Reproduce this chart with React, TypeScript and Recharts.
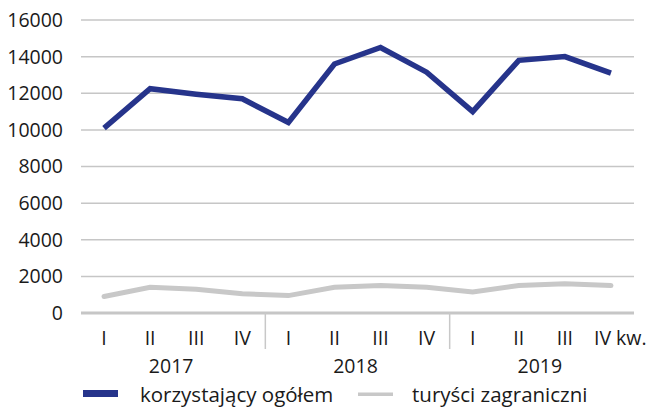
import React from "react";
import { LineChart, Line, XAxis, YAxis, CartesianGrid, Legend } from "recharts";

const quarters = ["I", "II", "III", "IV", "I", "II", "III", "IV", "I", "II", "III", "IV"];
const years = ["2017", "2018", "2019"];
const totalVisitors = [10100, 12250, 11950, 11700, 10400, 13600, 14500, 13150, 11000, 13800, 14000, 13100];
const foreignTourists = [900, 1400, 1300, 1050, 950, 1400, 1500, 1400, 1150, 1500, 1600, 1500];
const yTicks = [0, 2000, 4000, 6000, 8000, 10000, 12000, 14000, 16000];
const lastLabel = "IV kw.";

const seriesNames = { total: "korzystający ogółem", foreign: "turyści zagraniczni" };

const data = quarters.map((q, i) => ({
  q: `${i}`,
  label: q,
  total: totalVisitors[i],
  foreign: foreignTourists[i],
}));

const W = 655;
const H = 407;
const M = { top: 20, right: 21, left: 0, bottom: 0 };
const Y_W = 81;
const PLOT_W = W - M.left - M.right - Y_W;
const HALF_BAND = PLOT_W / quarters.length / 2;
const FONT = "'Open Sans', 'Noto Sans', sans-serif";
const TEXT = "#1a1a1a";
const BLUE = "#26348b";
const GRAY = "#c8c8c8";
const FS = 19.5;

const XTick = (props: any) => {
  const { x, y, index } = props;
  const n = quarters.length;
  const isLast = index === n - 1;
  const els: any[] = [];
  if (isLast) {
    els.push(
      <text key="t" x={x - 17} y={y + 32} textAnchor="start" fontSize={FS} fontFamily={FONT} fill={TEXT}>
        {lastLabel}
      </text>
    );
  } else {
    els.push(
      <text key="t" x={x} y={y + 32} textAnchor="middle" fontSize={FS} fontFamily={FONT} fill={TEXT}>
        {quarters[index]}
      </text>
    );
  }
  if (index % 4 === 0 && index > 0) {
    els.push(<line key="s" x1={x - HALF_BAND} x2={x - HALF_BAND} y1={y} y2={y + 36} stroke={GRAY} strokeWidth={1.5} />);
  }
  if (index % 4 === 1) {
    els.push(
      <text key="y" x={x + HALF_BAND - 2} y={y + 60} textAnchor="middle" fontSize={FS} fontFamily={FONT} fill={TEXT}>
        {years[Math.floor(index / 4)]}
      </text>
    );
  }
  return <g>{els}</g>;
};

const LegendContent = () => (
  <svg width={W} height={30} style={{ display: "block" }}>
    <rect x={83} y={13} width={35} height={7} fill={BLUE} />
    <text x={140} y={25} fontSize={20.5} fontFamily={FONT} fill={TEXT}>
      {seriesNames.total}
    </text>
    <rect x={358} y={15.5} width={35} height={3.5} fill={GRAY} />
    <text x={412} y={25} fontSize={20.5} fontFamily={FONT} fill={TEXT}>
      {seriesNames.foreign}
    </text>
  </svg>
);

export default function App() {
  return (
    <div style={{ position: "absolute", left: 0, top: 0, width: W, height: H, background: "#fff", overflow: "hidden" }}>
      <LineChart width={W} height={H} data={data} margin={M}>
        <CartesianGrid horizontal vertical={false} stroke="#c6c6c6" strokeWidth={1.5} />
        <XAxis
          dataKey="q"
          height={64}
          interval={0}
          padding={{ left: HALF_BAND, right: HALF_BAND }}
          tickLine={false}
          tickSize={0}
          tickMargin={0}
          axisLine={{ stroke: "#c6c6c6", strokeWidth: 3 }}
          tick={<XTick />}
        />
        <YAxis
          width={Y_W}
          domain={[0, 16000]}
          ticks={yTicks}
          interval={0}
          axisLine={false}
          tickLine={false}
          tickSize={0}
          tickMargin={18}
          tick={{ fontSize: FS, fontFamily: FONT, fill: TEXT }}
        />
        <Legend
          verticalAlign="bottom"
          height={30}
          content={<LegendContent />}
          wrapperStyle={{ left: 0, top: 377, width: W, height: 30 }}
        />
        <Line type="linear" dataKey="total" stroke={BLUE} strokeWidth={5.5} dot={false} isAnimationActive={false} />
        <Line type="linear" dataKey="foreign" stroke={GRAY} strokeWidth={5} dot={false} isAnimationActive={false} strokeLinecap="round" />
      </LineChart>
    </div>
  );
}
